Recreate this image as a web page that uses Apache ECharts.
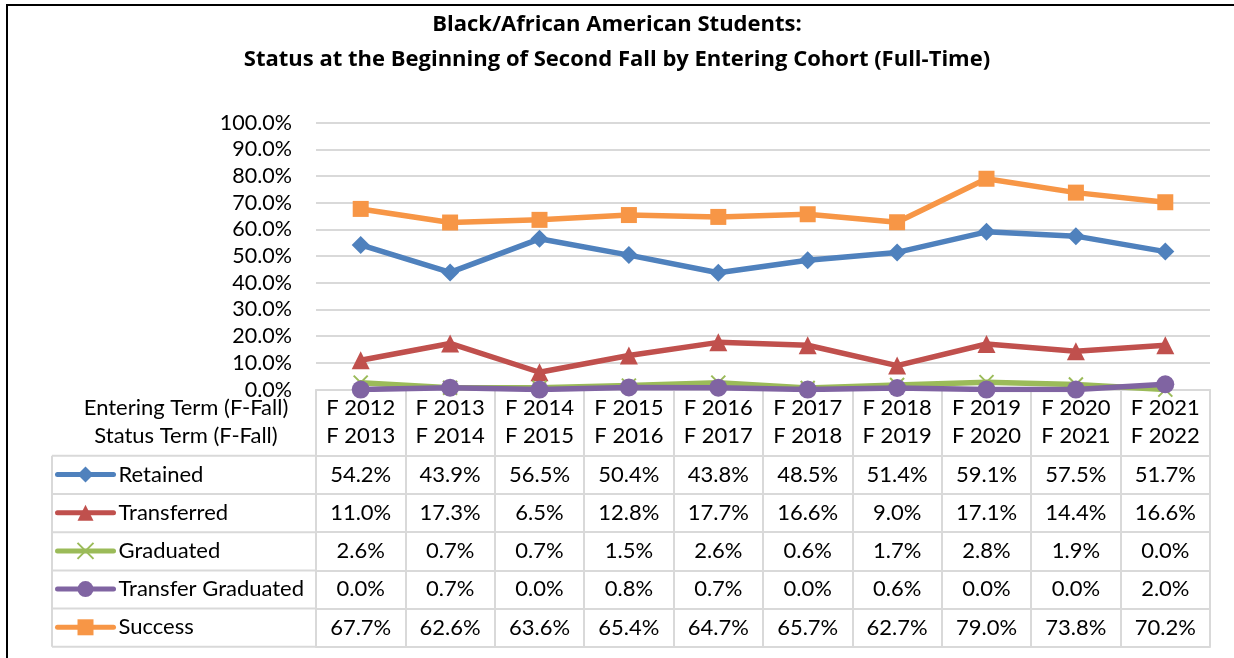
<!DOCTYPE html>
<html>
<head>
<meta charset="utf-8">
<title>Black/African American Students</title>
<script src="https://cdn.jsdelivr.net/npm/echarts@6/dist/echarts.min.js"></script>
<style>
  html, body { margin: 0; padding: 0; background: #fff; }
  #chart { width: 1234px; height: 658px; }
</style>
</head>
<body>
<div id="chart"></div>
<script>
// cohort labels: entering term / status term
const enteringTerms = ['F 2012', 'F 2013', 'F 2014', 'F 2015', 'F 2016', 'F 2017', 'F 2018', 'F 2019', 'F 2020', 'F 2021']
const statusTerms = ['F 2013', 'F 2014', 'F 2015', 'F 2016', 'F 2017', 'F 2018', 'F 2019', 'F 2020', 'F 2021', 'F 2022']

const seriesNames = ['Retained', 'Transferred', 'Graduated', 'Transfer Graduated', 'Success']
const retained = [54.2, 43.9, 56.5, 50.4, 43.8, 48.5, 51.4, 59.1, 57.5, 51.7]
const transferred = [11.0, 17.3, 6.5, 12.8, 17.7, 16.6, 9.0, 17.1, 14.4, 16.6]
const graduated = [2.6, 0.7, 0.7, 1.5, 2.6, 0.6, 1.7, 2.8, 1.9, 0.0]
const transferGraduated = [0.0, 0.7, 0.0, 0.8, 0.7, 0.0, 0.6, 0.0, 0.0, 2.0]
const success = [67.7, 62.6, 63.6, 65.4, 64.7, 65.7, 62.7, 79.0, 73.8, 70.2]

const allValues = [retained, transferred, graduated, transferGraduated, success]
const colors = ['#4f81bd', '#c0504d', '#9bbb59', '#8064a2', '#f79646']
const symbols = ['diamond', 'triangle', 'path://M0,0L10,10M10,0L0,10', 'circle', 'rect']
const symbolSizes = [18, 18, 14, 18, 16]

const font = 'Lato'
const titleFont = 'Open Sans'
const gridColor = '#d9d9d9'
const rowTop = 66.2      // first table row line below the axis
const rowH = 38.2

let chart = echarts.init(document.getElementById('chart'))

function pct(v) {
    return v.toFixed(1) + '%'
}

// the table rows are extra x axes on the same grid, pushed down with offset
let tableAxes = allValues.map((vals, i) => ({
    type: 'category',
    gridIndex: 0,
    position: 'bottom',
    offset: rowTop + rowH * i,
    data: vals.map(pct),
    axisLine: { show: true, lineStyle: { color: gridColor, width: 2 } },
    axisTick: { show: false },
    axisLabel: { interval: 0, color: '#000', fontSize: 22, fontFamily: font, lineHeight: 24, margin: 7 },
    splitLine: { show: false }
}))
// bottom border of the table
tableAxes.push({
    type: 'category',
    gridIndex: 0,
    position: 'bottom',
    offset: rowTop + rowH * 5,
    data: enteringTerms,
    axisLine: { show: true, lineStyle: { color: gridColor, width: 2 } },
    axisTick: { show: false },
    axisLabel: { show: false }
})

let labelColLines = []
for (let i = 0; i <= 5; i++) {
    let y = 389.6 + rowTop + rowH * i
    labelColLines.push({
        type: 'line',
        shape: { x1: 52, y1: y, x2: 316, y2: y },
        style: { stroke: gridColor, lineWidth: 2 }
    })
}
labelColLines.push({
    type: 'line',
    shape: { x1: 52, y1: 389.6 + rowTop, x2: 52, y2: 389.6 + rowTop + rowH * 5 },
    style: { stroke: gridColor, lineWidth: 2 }
})

let option = {
    backgroundColor: '#fff',
    animation: false,
    color: colors,
    title: {
        text: 'Black/African American Students:\nStatus at the Beginning of Second Fall by Entering Cohort (Full-Time)',
        left: 'center',
        top: 2,
        textStyle: { fontFamily: titleFont, fontSize: 22, fontWeight: 'bold', color: '#000', lineHeight: 35 }
    },
    legend: {
        orient: 'vertical',
        left: 55,
        top: 462.5,
        padding: 0,
        itemWidth: 56,
        itemHeight: 20,
        itemGap: rowH - 24,
        selectedMode: false,
        lineStyle: { width: 5, cap: 'round' },
        textStyle: { fontFamily: font, fontSize: 22, color: '#000', lineHeight: 24 },
        data: seriesNames
    },
    grid: {
        left: 316,
        right: 24,
        top: 122.7,
        bottom: 268.4,
        containLabel: false
    },
    xAxis: [{
        type: 'category',
        data: enteringTerms.map((t, i) => t + '\n' + statusTerms[i]),
        boundaryGap: true,
        axisLine: { lineStyle: { color: gridColor, width: 2 } },
        axisTick: { show: true, interval: 0, length: rowTop + rowH * 5, lineStyle: { color: gridColor, width: 2 } },
        axisLabel: { interval: 0, color: '#000', fontSize: 22, fontFamily: font, lineHeight: 28, margin: 4 },
        splitLine: { show: false }
    }].concat(tableAxes),
    yAxis: {
        type: 'value',
        min: 0,
        max: 100,
        interval: 10,
        axisLine: { show: false },
        axisTick: { show: false },
        axisLabel: { color: '#000', fontSize: 21.5, fontFamily: font, margin: 24, formatter: pct },
        splitLine: { lineStyle: { color: gridColor, width: 2 } }
    },
    graphic: [
        {
            type: 'rect',
            shape: { x: 7, y: 5, width: 1400, height: 900 },
            style: { fill: null, stroke: '#000', lineWidth: 2 },
            silent: true
        },
        {
            type: 'text',
            style: {
                x: 186, y: 408, text: 'Entering Term (F-Fall)', align: 'center', verticalAlign: 'middle',
                fontFamily: font, fontSize: 22, fill: '#000'
            }
        },
        {
            type: 'text',
            style: {
                x: 186, y: 436, text: 'Status Term (F-Fall)', align: 'center', verticalAlign: 'middle',
                fontFamily: font, fontSize: 22, fill: '#000'
            }
        }
    ].concat(labelColLines),
    series: allValues.map((vals, i) => ({
        name: seriesNames[i],
        type: 'line',
        data: vals,
        symbol: symbols[i],
        symbolSize: symbolSizes[i],
        showAllSymbol: true,
        lineStyle: { width: 5.5, color: colors[i], cap: 'round' },
        itemStyle: i === 2
            ? { color: colors[i], borderColor: colors[i], borderWidth: 2 }
            : { color: colors[i] }
    }))
}

chart.setOption(option)
</script>
</body>
</html>
